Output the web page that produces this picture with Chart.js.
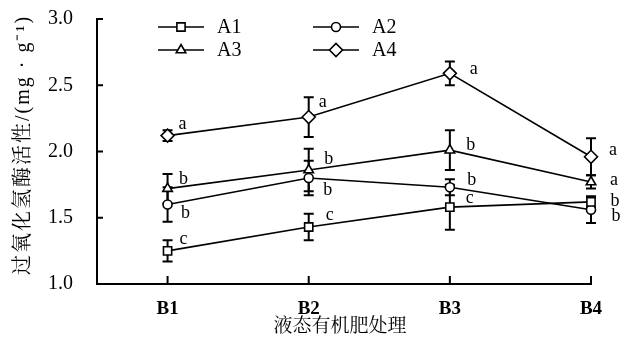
<!DOCTYPE html>
<html>
<head>
<meta charset="utf-8">
<script src="https://cdn.jsdelivr.net/npm/chart.js@4/dist/chart.umd.min.js"></script>
<style>
  body { margin: 0; background: #fff; }
  #wrap { width: 631px; height: 340px; }
</style>
</head>
<body>
<div id="wrap"><canvas id="chart"></canvas></div>
<script>
// Categories and tick labels
const categories = ['B1', 'B2', 'B3', 'B4'];
const yTicks = [1.0, 1.5, 2.0, 2.5, 3.0];
const xTitle = '液态有机肥处理';
const yTitle = '过氧化氢酶活性/(mg · g⁻¹)';

// Series values (means)
const a1 = [1.25, 1.43, 1.58, 1.62];
const a2 = [1.60, 1.80, 1.73, 1.56];
const a3 = [1.72, 1.86, 2.01, 1.77];
const a4 = [2.12, 2.26, 2.59, 1.96];

// Error bars (+/-)
const a1Err = [0.08, 0.10, 0.17, 0.04];
const a2Err = [0.13, 0.13, 0.06, 0.10];
const a3Err = [0.11, 0.16, 0.15, 0.05];
const a4Err = [0.04, 0.15, 0.09, 0.14];

// Significance letters
const a1Sig = ['c', 'c', 'c', 'b'];
const a2Sig = ['b', 'b', 'b', 'b'];
const a3Sig = ['b', 'b', 'b', 'a'];
const a4Sig = ['a', 'a', 'a', 'a'];

// Letter placement relative to the point, in px (style only)
const sigOffsets = [
    [[16, -12], [21, -12], [20, -9], [24, -1]],
    [[18, 9], [19, 12], [22, -7], [25, 6]],
    [[16, -9], [20, -11], [21, -5], [23, -2]],
    [[15, -11], [14, -15], [24, -4], [22, -7]]
];

const SERIF = "'Liberation Serif', 'Noto Serif CJK SC', 'Noto Sans CJK SC', serif";

function toPoints(values) {
    return values.map((v, i) => ({ x: i + 1, y: v }));
}

function makeSet(label, values, err, sig, style, radius) {
    return {
        label: label,
        data: toPoints(values),
        err: err,
        sig: sig,
        clip: false,
        borderColor: '#000',
        borderWidth: 1.6,
        pointStyle: style,
        pointRadius: radius,
        pointBorderWidth: 1.6,
        pointBackgroundColor: '#fff',
        pointBorderColor: '#000',
        tension: 0
    };
}

// Error bars under the markers
const errorBars = {
    id: 'errorBars',
    beforeDatasetsDraw(chart) {
        const ctx = chart.ctx;
        const y = chart.scales.y;
        ctx.save();
        ctx.strokeStyle = '#000';
        ctx.lineWidth = 2;
        chart.data.datasets.forEach((ds, di) => {
            const meta = chart.getDatasetMeta(di);
            meta.data.forEach((pt, i) => {
                const v = ds.data[i].y;
                const e = ds.err[i];
                const top = y.getPixelForValue(v + e);
                const bot = y.getPixelForValue(v - e);
                ctx.beginPath();
                ctx.moveTo(pt.x, top);
                ctx.lineTo(pt.x, bot);
                ctx.moveTo(pt.x - 5, top);
                ctx.lineTo(pt.x + 5, top);
                ctx.moveTo(pt.x - 5, bot);
                ctx.lineTo(pt.x + 5, bot);
                ctx.stroke();
            });
        });
        ctx.restore();
    }
};

// Inward ticks, letters, legend, axis titles
const decorations = {
    id: 'decorations',
    afterDraw(chart) {
        const ctx = chart.ctx;
        const xs = chart.scales.x;
        const ys = chart.scales.y;
        const area = chart.chartArea;
        ctx.save();
        ctx.strokeStyle = '#000';
        ctx.lineWidth = 2;
        ctx.beginPath();
        yTicks.forEach(t => {
            const py = ys.getPixelForValue(t);
            ctx.moveTo(area.left, py);
            ctx.lineTo(area.left + 6, py);
        });
        categories.forEach((c, i) => {
            const px = xs.getPixelForValue(i + 1);
            ctx.moveTo(px, area.bottom);
            ctx.lineTo(px, area.bottom - 8);
        });
        ctx.stroke();

        // significance letters
        ctx.fillStyle = '#000';
        ctx.font = '18px ' + SERIF;
        ctx.textAlign = 'center';
        ctx.textBaseline = 'middle';
        chart.data.datasets.forEach((ds, di) => {
            const meta = chart.getDatasetMeta(di);
            meta.data.forEach((pt, i) => {
                const off = sigOffsets[di][i];
                ctx.fillText(ds.sig[i], pt.x + off[0], pt.y + off[1]);
            });
        });

        // legend: two columns, two rows
        const cols = [181, 336];
        const rows = [27, 50];
        ctx.font = '20px ' + SERIF;
        ctx.textAlign = 'left';
        chart.data.datasets.forEach((ds, di) => {
            const cx = cols[di % 2];
            const cy = rows[Math.floor(di / 2)];
            ctx.lineWidth = 1.6;
            ctx.strokeStyle = '#000';
            ctx.beginPath();
            ctx.moveTo(cx - 23, cy);
            ctx.lineTo(cx + 23, cy);
            ctx.stroke();
            ctx.fillStyle = '#fff';
            Chart.helpers.drawPoint(ctx, {
                pointStyle: ds.pointStyle,
                radius: ds.pointRadius,
                borderWidth: 1.6,
                rotation: 0
            }, cx, cy);
            ctx.fillStyle = '#000';
            ctx.fillText(ds.label, cx + 36, cy + 1);
        });

        // axis titles
        ctx.font = '19px ' + SERIF;
        ctx.textAlign = 'center';
        ctx.fillText(xTitle, 340, 327);
        ctx.translate(24, 145);
        ctx.rotate(-Math.PI / 2);
        ctx.font = '20px ' + SERIF;
        ctx.letterSpacing = '2px';
        ctx.fillText(yTitle, 0, 0);
        ctx.restore();
    }
};

new Chart(document.getElementById('chart'), {
    type: 'line',
    data: {
        datasets: [
            makeSet('A1', a1, a1Err, a1Sig, 'rect', 5.8),
            makeSet('A2', a2, a2Err, a2Sig, 'circle', 4.5),
            makeSet('A3', a3, a3Err, a3Sig, 'triangle', 5.5),
            makeSet('A4', a4, a4Err, a4Sig, 'rectRot', 6.5)
        ]
    },
    options: {
        responsive: true,
        maintainAspectRatio: false,
        animation: false,
        layout: { padding: { left: 0, top: 19, right: 40, bottom: 0 } },
        plugins: { legend: { display: false }, tooltip: { enabled: false } },
        scales: {
            x: {
                type: 'linear',
                min: 0.5,
                max: 4,
                grid: { display: false, tickLength: 14 },
                border: { display: true, color: '#000', width: 2 },
                afterBuildTicks: s => { s.ticks = categories.map((c, i) => ({ value: i + 1 })); },
                afterFit: s => { s.height = 56; },
                ticks: {
                    color: '#000',
                    padding: 0,
                    maxRotation: 0,
                    font: { family: SERIF, size: 19, weight: 'bold' },
                    callback: v => categories[v - 1]
                }
            },
            y: {
                min: 1,
                max: 3,
                grid: { display: false, tickLength: 24 },
                border: { display: true, color: '#000', width: 2 },
                afterBuildTicks: s => { s.ticks = yTicks.map(v => ({ value: v })); },
                afterFit: s => { s.width = 97; },
                ticks: {
                    color: '#000',
                    padding: 0,
                    font: { family: SERIF, size: 20 },
                    callback: v => v.toFixed(1)
                }
            }
        }
    },
    plugins: [errorBars, decorations]
});
</script>
</body>
</html>
